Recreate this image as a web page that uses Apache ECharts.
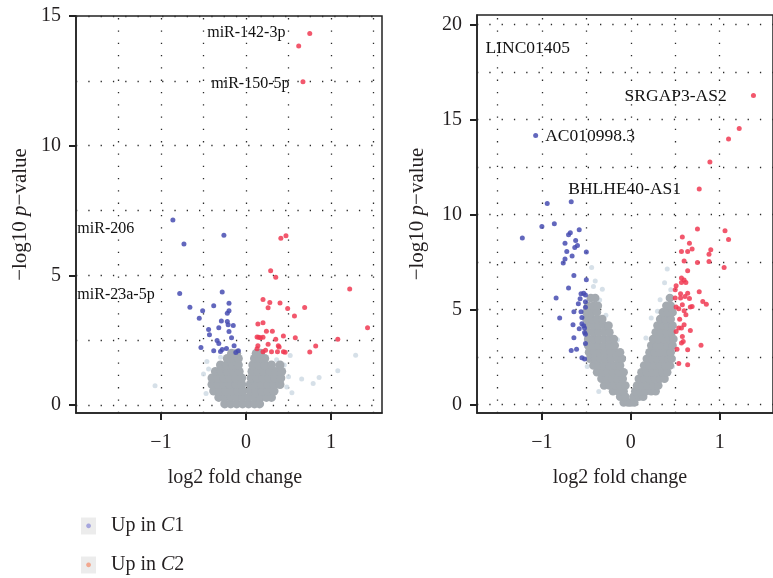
<!DOCTYPE html>
<html><head><meta charset="utf-8">
<script src="https://cdn.jsdelivr.net/npm/echarts@6/dist/echarts.min.js"></script>
<style>html,body{margin:0;padding:0;background:#fff}#c{width:773px;height:578px}</style>
</head><body><div id="c"></div>
<script>
// ---------- data ----------
const seriesNames = ['Up in C1', 'Up in C2'];
const xTickValues = [-1, 0, 1];
const leftYTickValues = [0, 5, 10, 15];
const rightYTickValues = [0, 5, 10, 15, 20];
const leftGridX = [-1.5, -1, -0.5, 0, 0.5, 1, 1.5];
const leftGridY = [0, 2.5, 5, 7.5, 10, 12.5, 15];
const rightGridX = [-1.5, -1, -0.5, 0, 0.5, 1];
const rightGridY = [0, 2.5, 5, 7.5, 10, 12.5, 15, 17.5, 20];

// left panel (miRNA)
const leftBlue = [[-0.86,7.14],[-0.73,6.21],[-0.26,6.55],[-0.78,4.31],[-0.28,4.36],[-0.66,3.78],[-0.51,3.64],[-0.38,3.83],[-0.20,3.93],[-0.55,3.35],[-0.20,3.64],[-0.22,3.54],[-0.29,3.25],[-0.22,3.23],[-0.21,3.10],[-0.15,3.07],[-0.44,2.92],[-0.43,2.72],[-0.32,2.99],[-0.20,2.84],[-0.17,2.60],[-0.34,2.49],[-0.32,2.38],[-0.53,2.22],[-0.38,2.10],[-0.30,2.07],[-0.28,2.15],[-0.23,2.19],[-0.14,2.29],[-0.12,2.03],[-0.09,2.10]];
const leftRed = [[0.75,14.33],[0.62,13.84],[0.67,12.47],[0.41,6.43],[0.47,6.53],[0.29,5.18],[0.35,4.93],[1.22,4.48],[0.20,4.07],[0.28,3.96],[0.26,3.76],[0.40,3.94],[0.49,3.73],[0.69,3.77],[0.57,3.44],[1.43,2.99],[0.14,3.13],[0.20,3.18],[0.24,2.85],[0.31,2.85],[0.13,2.63],[0.15,2.62],[0.17,2.60],[0.20,2.62],[0.35,2.54],[0.44,2.67],[0.58,2.60],[1.08,2.54],[0.14,2.29],[0.26,2.35],[0.38,2.29],[0.39,2.24],[0.82,2.28],[0.13,2.18],[0.20,2.06],[0.23,2.12],[0.30,2.06],[0.37,2.06],[0.44,2.06],[0.46,2.04],[0.75,2.05]];
// rows: [y, [x values]]
const leftGrayRows = [
  [0.05, [-0.25,-0.18,-0.11,-0.04,0.03,0.10,0.16]],
  [0.30, [-0.32,-0.25,-0.18,-0.11,-0.04,0.03,0.10,0.17,0.24,0.30]],
  [0.55, [-0.38,-0.31,-0.24,-0.17,-0.10,-0.04,0.05,0.12,0.19,0.26,0.33]],
  [0.80, [-0.40,-0.33,-0.26,-0.19,-0.12,-0.05,0.05,0.12,0.19,0.26,0.33,0.40]],
  [1.05, [-0.40,-0.33,-0.26,-0.19,-0.12,-0.05,0.06,0.13,0.20,0.27,0.34,0.41]],
  [1.30, [-0.36,-0.29,-0.22,-0.15,-0.08,0.07,0.14,0.21,0.28,0.35,0.42]],
  [1.55, [-0.30,-0.23,-0.16,-0.09,0.08,0.15,0.22,0.30,0.40]],
  [1.80, [-0.22,-0.15,-0.09,0.10,0.16,0.22]],
  [2.00, [-0.17,-0.11,0.12,0.17]]
];
const leftFaint = [[-1.07,0.75],[0.655,1.01],[0.79,0.84],[0.86,1.07],[1.08,1.33],[1.29,1.93],[0.54,0.48],[0.52,1.92],[-0.46,1.68],[-0.40,0.87],[-0.50,1.20],[0.48,0.70],[0.45,1.55],[-0.47,0.45],[-0.44,1.40],[0.50,1.10],[0.36,1.75],[-0.30,1.85]];

// right panel (lncRNA)
const rightBlue = [[-1.07,14.16],[-0.94,10.58],[-0.67,10.67],[-1.00,9.37],[-0.86,9.51],[-1.22,8.76],[-0.70,8.93],[-0.68,9.04],[-0.58,9.19],[-0.74,8.49],[-0.62,8.63],[-0.63,8.26],[-0.60,8.37],[-0.72,8.05],[-0.50,8.02],[-0.66,7.81],[-0.74,7.65],[-0.76,7.44],[-0.64,6.79],[-0.50,6.56],[-0.70,6.13],[-0.84,5.60],[-0.56,5.83],[-0.53,5.86],[-0.51,5.76],[-0.57,5.56],[-0.59,5.30],[-0.51,5.41],[-0.51,5.11],[-0.64,4.88],[-0.56,4.88],[-0.80,4.55],[-0.55,4.58],[-0.65,4.19],[-0.55,4.25],[-0.53,4.14],[-0.52,4.02],[-0.58,3.98],[-0.52,3.79],[-0.51,3.70],[-0.64,3.51],[-0.51,3.21],[-0.67,2.84],[-0.61,2.90],[-0.55,2.46],[-0.52,2.39]];
const rightRed = [[1.38,16.26],[1.22,14.53],[1.10,13.97],[0.89,12.76],[0.77,11.34],[0.58,8.81],[0.75,9.23],[1.06,9.14],[1.10,8.68],[0.66,8.49],[0.57,8.05],[0.64,8.05],[0.69,8.18],[0.90,8.14],[0.88,7.90],[0.60,7.55],[0.75,7.47],[0.88,7.53],[1.05,7.21],[0.64,7.04],[0.57,6.65],[0.57,6.42],[0.60,6.55],[0.62,6.42],[0.51,6.25],[0.50,6.04],[0.56,5.83],[0.64,5.86],[0.77,5.93],[0.50,5.60],[0.56,5.60],[0.61,5.68],[0.66,5.58],[0.81,5.42],[0.85,5.28],[0.58,5.25],[0.51,5.13],[0.54,5.04],[0.60,4.93],[0.67,5.13],[0.69,5.16],[0.62,4.72],[0.55,4.49],[0.60,4.19],[0.54,4.02],[0.57,4.02],[0.51,3.84],[0.67,3.89],[0.58,3.58],[0.59,3.32],[0.57,3.23],[0.79,3.12],[0.52,2.91],[0.64,2.88],[0.54,2.16],[0.64,2.09]];
const rightGrayRows = [
  [0.10, [-0.08,-0.03,0.00,0.04]],
  [0.40, [-0.12,-0.06,0.03,0.09,0.14]],
  [0.70, [-0.20,-0.14,-0.08,0.05,0.11,0.17,0.23,0.28]],
  [1.00, [-0.30,-0.24,-0.18,-0.12,-0.06,0.07,0.13,0.19,0.25,0.31]],
  [1.35, [-0.33,-0.27,-0.21,-0.15,-0.09,0.09,0.15,0.21,0.27,0.33,0.38]],
  [1.70, [-0.38,-0.32,-0.26,-0.20,-0.14,-0.08,0.12,0.18,0.24,0.30,0.36,0.41]],
  [2.05, [-0.42,-0.36,-0.30,-0.24,-0.18,-0.12,0.15,0.21,0.27,0.33,0.39,0.44]],
  [2.40, [-0.46,-0.40,-0.34,-0.28,-0.22,-0.15,-0.10,0.18,0.24,0.30,0.36,0.42,0.46]],
  [2.75, [-0.47,-0.41,-0.35,-0.29,-0.23,-0.17,-0.12,0.21,0.27,0.33,0.39,0.45]],
  [3.10, [-0.48,-0.42,-0.36,-0.30,-0.24,-0.18,0.23,0.29,0.35,0.41,0.47]],
  [3.45, [-0.48,-0.42,-0.36,-0.30,-0.24,-0.19,0.25,0.31,0.37,0.43,0.48]],
  [3.80, [-0.48,-0.42,-0.36,-0.30,-0.24,0.28,0.34,0.40,0.46]],
  [4.15, [-0.48,-0.42,-0.36,-0.30,-0.25,0.30,0.36,0.42,0.47]],
  [4.50, [-0.50,-0.44,-0.38,-0.32,0.33,0.39,0.45]],
  [4.85, [-0.50,-0.44,-0.38,0.36,0.42,0.47]],
  [5.20, [-0.48,-0.42,-0.37,0.40,0.45]],
  [5.60, [-0.45,-0.40,0.44]]
];
const rightFaint = [[-0.44,7.21],[-0.42,6.21],[-0.32,6.07],[-0.36,0.68],[-0.49,2.00],[0.41,7.13],[0.33,5.51],[0.23,4.55],[0.45,6.04],[-0.40,6.50],[0.38,6.40],[-0.35,5.50],[0.30,4.90],[0.17,3.50],[-0.15,3.40],[-0.28,4.70],[0.47,2.00]];

// annotations: [text, x, y, side]
const leftLabels = [['miR-142-3p',0.47,14.34,'left'],['miR-150-5p',0.518,12.38,'left'],['miR-206',-1.99,6.78,'right'],['miR-23a-5p',-1.99,4.27,'right']];
const rightLabels = [['LINC01405',-1.64,18.76,'right'],['SRGAP3-AS2',1.085,16.21,'left'],['AC010998.3',-0.969,14.10,'right'],['BHLHE40-AS1',0.571,11.30,'left']];

// ---------- helpers ----------
const FONT = 'Liberation Serif';
const TXT = '#231f20';
const BLUE = '#474cb2';
const RED = '#f03a52';
const GRAY = '#a4aab0';
const FAINT = '#d2dde6';
const rowsToPoints = rows => rows.flatMap(([y, xs]) => xs.map(x => [x, y]));
const fmt = v => (v < 0 ? '\u2212' : '') + Math.abs(v);

function xAxisDef(gi, min, max, pad) {
  return {
    gridIndex: gi, type: 'value', min, max,
    splitLine: { show: false },
    axisLine: { show: true, onZero: false, lineStyle: { color: '#222', width: 1.5 } },
    axisTick: { show: true, customValues: xTickValues, length: 7, lineStyle: { color: '#222', width: 2 } },
    axisLabel: { customValues: xTickValues, formatter: fmt, fontSize: 20, fontFamily: FONT, color: TXT, margin: 20 },
    name: 'log2 fold change', nameLocation: 'middle', nameGap: 55,
    nameTextStyle: { fontSize: 20, fontFamily: FONT, color: TXT, padding: pad }
  };
}
function yAxisDef(gi, min, max, ticks, gap) {
  return {
    gridIndex: gi, type: 'value', min, max,
    splitLine: { show: false },
    axisLine: { show: true, onZero: false, lineStyle: { color: '#222', width: 1.5 } },
    axisTick: { show: true, customValues: ticks, length: 7, lineStyle: { color: '#222', width: 2 } },
    axisLabel: { customValues: ticks, formatter: fmt, fontSize: 20, fontFamily: FONT, color: TXT, margin: 15 },
    name: '{t|\u2212log10 }{i|p}{t|\u2212value}', nameLocation: 'middle', nameGap: gap, nameRotate: 90,
    nameTextStyle: { rich: { t: { fontSize: 21, fontFamily: FONT, color: TXT }, i: { fontSize: 21, fontFamily: FONT, fontStyle: 'italic', color: TXT } } }
  };
}
function gridLines(gx, gy) {
  return {
    silent: true, symbol: ['none', 'none'], z: 1, animation: false,
    label: { show: false }, emphasis: { disabled: true },
    lineStyle: { color: '#2a2a2a', width: 1.3, type: [1.3, 11] },
    data: gx.map(v => ({ xAxis: v })).concat(gy.map(v => ({ yAxis: v })))
  };
}
function annot(gi, labels, size) {
  return {
    type: 'scatter', xAxisIndex: gi, yAxisIndex: gi, symbolSize: 1, silent: true, z: 6, clip: false,
    itemStyle: { color: 'rgba(0,0,0,0)', opacity: 1 },
    data: labels.map(([t, x, y, side]) => ({
      value: [x, y], name: t,
      label: { show: true, position: side, distance: 0, formatter: t, fontSize: size, fontFamily: FONT,
               color: '#111', opacity: 1, textBorderWidth: 0 }
    }))
  };
}
function pts(gi, name, data, color, size, opacity, z) {
  return { type: 'scatter', name, xAxisIndex: gi, yAxisIndex: gi, data, symbolSize: size, z,
    itemStyle: { color, opacity }, silent: true };
}
function legendItem(name, top, dotColor) {
  return {
    data: [name], orient: 'vertical', left: 71, top, itemWidth: 0, itemHeight: 0,
    selectedMode: false,
    formatter: n => '{b|\u25CF}{sp|}{t|' + n.slice(0, 6) + '}{i|' + n.slice(6, 7) + '}{t|' + n.slice(7) + '}',
    textStyle: {
      rich: {
        b: { backgroundColor: '#ececec', width: 15, height: 17, align: 'center', color: dotColor, fontSize: 11, lineHeight: 17 },
        sp: { width: 15 },
        t: { fontSize: 20, fontFamily: FONT, color: TXT, lineHeight: 22 },
        i: { fontSize: 20, fontFamily: FONT, color: TXT, fontStyle: 'italic', lineHeight: 22 }
      }
    }
  };
}

const chart = echarts.init(document.getElementById('c'), null, { renderer: 'canvas' });
chart.setOption({
  animation: false,
  backgroundColor: '#fff',
  grid: [
    { left: 76, top: 16, width: 306, height: 397, show: true, borderColor: '#222', borderWidth: 1.5 },
    { left: 477, top: 15, width: 311, height: 398, show: true, borderColor: '#222', borderWidth: 1.5 }
  ],
  xAxis: [xAxisDef(0, -2, 1.6, [0, 0, 0, 12]), xAxisDef(1, -1.73, 1.6, [0, 10, 0, 0])],
  yAxis: [yAxisDef(0, -0.3, 15, leftYTickValues, 45), yAxisDef(1, -0.45, 20.5, rightYTickValues, 49)],
  legend: [legendItem(seriesNames[0], 511, '#a6a6de'), legendItem(seriesNames[1], 550, '#f2a890')],
  series: [
    pts(0, 'faint-left', leftFaint, FAINT, 5, 0.9, 2),
    Object.assign(pts(0, 'ns-left', rowsToPoints(leftGrayRows), GRAY, 9, 1, 2), { markLine: gridLines(leftGridX, leftGridY) }),
    pts(0, seriesNames[0], leftBlue, BLUE, 5, 0.85, 3),
    pts(0, seriesNames[1], leftRed, RED, 5, 0.85, 3),
    annot(0, leftLabels, 16),
    pts(1, 'faint-right', rightFaint, FAINT, 5, 0.9, 2),
    Object.assign(pts(1, 'ns-right', rowsToPoints(rightGrayRows), GRAY, 8.5, 1, 2), { markLine: gridLines(rightGridX, rightGridY) }),
    pts(1, seriesNames[0], rightBlue, BLUE, 5, 0.85, 3),
    pts(1, seriesNames[1], rightRed, RED, 5, 0.85, 3),
    annot(1, rightLabels, 17.5)
  ]
});
</script></body></html>
